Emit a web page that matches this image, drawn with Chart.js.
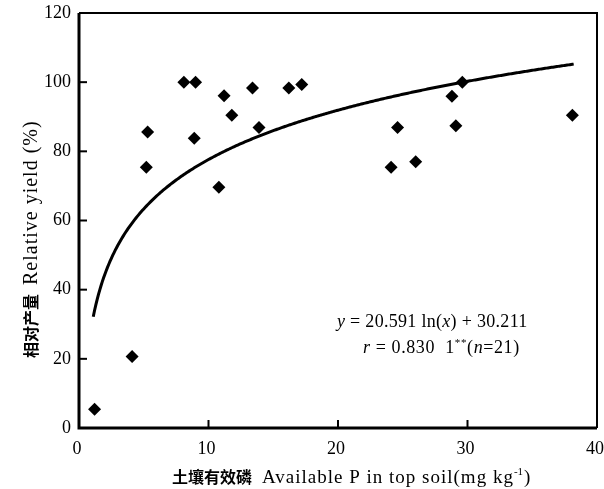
<!DOCTYPE html>
<html>
<head>
<meta charset="utf-8">
<script src="https://cdn.jsdelivr.net/npm/chart.js@4/dist/chart.umd.min.js"></script>
<style>
  html, body { margin: 0; padding: 0; background: #fff; }
  #wrap { width: 604px; height: 489px; }
</style>
</head>
<body>
<div id="wrap"><canvas id="mycanvas"></canvas></div>
<script>
// measured points: available P (mg/kg) vs relative yield (%)
const availableP = [1.2, 4.1, 5.2, 5.3, 8.1, 8.9, 9.0, 10.8, 11.2, 11.8, 13.4, 13.9, 16.2, 17.2, 24.1, 24.6, 26.0, 28.8, 29.1, 29.6, 38.1];
const relYield = [5.4, 20.7, 75.4, 85.6, 100, 83.8, 100, 69.6, 96.1, 90.4, 98.3, 86.9, 98.3, 99.3, 75.4, 86.9, 77.0, 95.9, 87.4, 100, 90.4];

// fitted curve y = a ln(x) + b, drawn over the range shown
const fitA = 20.591;
const fitB = 30.211;
const fitFrom = 1.1;
const fitTo = 38.2;

const xTicks = [0, 10, 20, 30, 40];
const yTicks = [0, 20, 40, 60, 80, 100, 120];

const fitPoints = [];
for (let x = fitFrom; x <= fitTo + 1e-9; x += 0.1) {
  fitPoints.push({ x: x, y: fitA * Math.log(x) + fitB });
}

const points = availableP.map((x, i) => ({ x: x, y: relYield[i] }));

const serif = '"Liberation Serif", "Times New Roman", serif';
const cjk = '"Noto Sans CJK SC", sans-serif';

// frame, inner ticks, titles and the equation
const decorations = {
  id: "decorations",
  afterDraw(chart) {
    const ctx = chart.ctx;
    const a = chart.chartArea;
    const xs = chart.scales.x;
    const ys = chart.scales.y;
    ctx.save();
    ctx.strokeStyle = "#000";
    ctx.fillStyle = "#000";

    // box
    ctx.lineWidth = 2;
    ctx.beginPath();
    ctx.moveTo(a.left, a.top);
    ctx.lineTo(a.right, a.top);
    ctx.lineTo(a.right, a.bottom);
    ctx.stroke();
    ctx.lineWidth = 3;
    ctx.beginPath();
    ctx.moveTo(a.left, a.top);
    ctx.lineTo(a.left, a.bottom);
    ctx.lineTo(a.right, a.bottom);
    ctx.stroke();

    // inside ticks
    ctx.lineWidth = 2;
    xTicks.slice(1, -1).forEach(v => {
      const px = xs.getPixelForValue(v);
      ctx.beginPath();
      ctx.moveTo(px, a.bottom);
      ctx.lineTo(px, a.bottom - 8);
      ctx.stroke();
    });
    yTicks.slice(1, -1).forEach(v => {
      const py = ys.getPixelForValue(v);
      ctx.beginPath();
      ctx.moveTo(a.left, py);
      ctx.lineTo(a.left + 8, py);
      ctx.stroke();
    });

    // x title
    ctx.textBaseline = "alphabetic";
    ctx.textAlign = "left";
    const ty = 483;
    ctx.font = "bold 16px " + cjk;
    ctx.fillText("土壤有效磷", 172, ty);
    ctx.letterSpacing = "1px";
    let tx = 262;
    ctx.font = "19px " + serif;
    ctx.fillText("Available P in top soil(mg kg", tx, ty);
    tx += ctx.measureText("Available P in top soil(mg kg").width;
    ctx.letterSpacing = "0px";
    ctx.font = "11px " + serif;
    ctx.fillText("-1", tx, ty - 8);
    tx += ctx.measureText("-1").width + 1;
    ctx.font = "19px " + serif;
    ctx.fillText(")", tx, ty);

    // y title (rotated, reads bottom to top)
    ctx.save();
    ctx.translate(37, 358);
    ctx.rotate(-Math.PI / 2);
    ctx.font = "bold 16px " + cjk;
    ctx.fillText("相对产量", 0, 0);
    ctx.letterSpacing = "1px";
    ctx.font = "20px " + serif;
    ctx.fillText("Relative yield (%)", 73, 0);
    ctx.restore();

    // equation
    const runs = (parts, x, y) => {
      parts.forEach(p => {
        ctx.font = p[1];
        ctx.fillText(p[0], x, y + (p[2] || 0));
        x += ctx.measureText(p[0]).width;
      });
    };
    const reg = "18px " + serif;
    const it = "italic 18px " + serif;
    ctx.letterSpacing = "0.3px";
    runs([["y", it], [" = 20.591 ln(", reg], ["x", it], [") + 30.211", reg]], 337, 327);
    ctx.letterSpacing = "0.6px";
    runs([["r", it], [" = 0.830  1", reg], ["**", "11px " + serif, -7], ["(", reg], ["n", it], ["=21)", reg]], 363, 353);

    ctx.restore();
  }
};

const config = {
  type: "scatter",
  data: {
    datasets: [
      {
        data: fitPoints,
        showLine: true,
        borderColor: "#000",
        borderWidth: 3,
        pointRadius: 0,
        tension: 0,
        fill: false,
      },
      {
        data: points,
        pointStyle: "rectRot",
        pointRadius: 6.5,
        backgroundColor: "#000",
        borderColor: "#000",
        borderWidth: 0,
      },
    ],
  },
  options: {
    responsive: true,
    maintainAspectRatio: false,
    animation: false,
    events: [],
    layout: { padding: { top: 13, right: 7, left: 0, bottom: 0 } },
    plugins: {
      legend: { display: false },
      tooltip: { enabled: false },
    },
    scales: {
      x: {
        type: "linear",
        min: 0,
        max: 40,
        grid: { display: false, drawTicks: false },
        border: { display: false },
        afterBuildTicks: s => { s.ticks = xTicks.map(v => ({ value: v })); },
        afterFit: s => { s.height = 61; s.paddingLeft = 0; s.paddingRight = 0; },
        ticks: { color: "#000", padding: 10, labelOffset: -2, font: { family: serif, size: 18 } },
      },
      y: {
        type: "linear",
        min: 0,
        max: 120,
        grid: { display: false, drawTicks: false },
        border: { display: false },
        afterBuildTicks: s => { s.ticks = yTicks.map(v => ({ value: v })); },
        afterFit: s => { s.width = 79; s.paddingTop = 0; s.paddingBottom = 0; },
        ticks: { color: "#000", padding: 8, font: { family: serif, size: 18 } },
      },
    },
  },
  plugins: [decorations],
};

const myChart = new Chart(document.querySelector("#mycanvas").getContext("2d"), config);
</script>
</body>
</html>
